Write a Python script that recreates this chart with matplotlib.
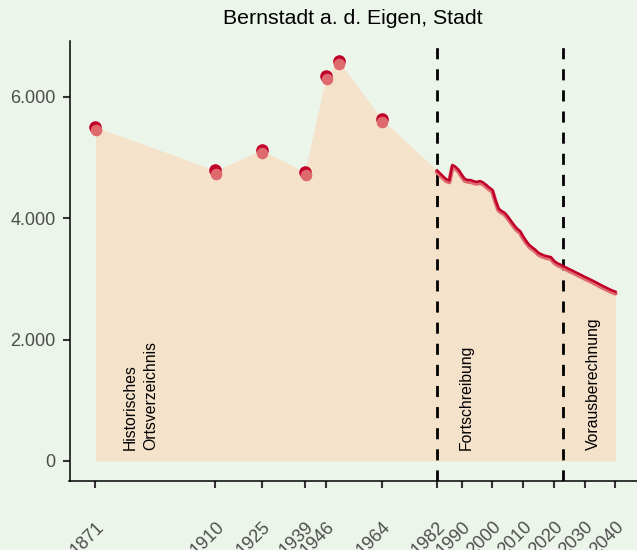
import matplotlib
matplotlib.use("Agg")
import matplotlib.pyplot as plt
import matplotlib.transforms as mtransforms
from matplotlib.ticker import FuncFormatter

plt.rcParams['font.family'] = ['Liberation Sans', 'DejaVu Sans']

title = "Bernstadt a. d. Eigen, Stadt"

hist_years = [1871, 1910, 1925, 1939, 1946, 1950, 1964]
hist_pop = [5505, 4790, 5126, 4765, 6346, 6593, 5637]

annual_years = list(range(1982, 2023))
annual_pop = [4790, 4740, 4690, 4645, 4625, 4880, 4850, 4800, 4720, 4650,
              4632, 4630, 4610, 4600, 4615, 4590, 4550, 4505, 4470, 4300,
              4160, 4120, 4090, 4030, 3960, 3890, 3830, 3790, 3700, 3625,
              3560, 3520, 3480, 3430, 3405, 3385, 3372, 3362, 3300, 3262,
              3240]

proj_years = list(range(2022, 2041))
proj_pop = [3240, 3212, 3188, 3162, 3138, 3112, 3088, 3062, 3036, 3012,
            2988, 2962, 2936, 2908, 2882, 2858, 2832, 2810, 2790]

xticks = [1871, 1910, 1925, 1939, 1946, 1964, 1982, 1990, 2000, 2010, 2020, 2030, 2040]
yticks = [0, 2000, 4000, 6000]
boundaries = [1982, 2023]
period_labels = ["Historisches\nOrtsverzeichnis", "Fortschreibung", "Vorausberechnung"]
label_x = [1885.5, 1991.5, 2033]

bg = "#ECF5EA"
fill_col = "#F5E2CB"
dark = "#C0002A"
light = "#DE6A6E"

fig = plt.figure(figsize=(6.37, 5.5), dpi=100, facecolor=bg)
ax = fig.add_axes([69.5/637, 69/550, (637-69.5)/637, 440/550])
ax.set_facecolor(bg)

area_x = hist_years + annual_years + proj_years[1:]
area_y = hist_pop + annual_pop + proj_pop[1:]
ax.fill_between(area_x, 0, area_y, color=fill_col, lw=0, zorder=1)

for b in boundaries:
    ax.axvline(b, color="black", lw=2, linestyle=(0, (4, 3.6)), zorder=2)

down = mtransforms.ScaledTranslation(0, -1.2/72, fig.dpi_scale_trans)
line_x = annual_years + proj_years[1:]
line_y = annual_pop + proj_pop[1:]
ax.plot(line_x, line_y, color=light, lw=3.2, transform=ax.transData + down,
        solid_capstyle='round', solid_joinstyle='round', zorder=3)
ax.plot(line_x, line_y, color=dark, lw=1.8, solid_joinstyle='round', zorder=4)

down2 = mtransforms.ScaledTranslation(0.6/72, -2.4/72, fig.dpi_scale_trans)
ax.scatter(hist_years, hist_pop, s=82, color=dark, lw=0, zorder=5)
ax.scatter(hist_years, hist_pop, s=70, color=light, lw=0, zorder=6,
           transform=ax.transData + down2)

for lx, txt in zip(label_x, period_labels):
    ax.text(lx, 180, txt, rotation=90, ha='center', va='bottom',
            multialignment='left', fontsize=11.3, color='black', zorder=7,
            linespacing=1.45)

ax.set_xlim(1862.55, 2047)
ax.set_ylim(-330, 6923)
ax.set_xticks(xticks)
ax.set_xticklabels([str(x) for x in xticks])
ax.set_yticks(yticks)
ax.yaxis.set_major_formatter(FuncFormatter(lambda v, p: f"{int(v):,}".replace(",", ".")))

for s in ['top', 'right']:
    ax.spines[s].set_visible(False)
for s in ['left', 'bottom']:
    ax.spines[s].set_color('black')
    ax.spines[s].set_linewidth(1.1)

ax.tick_params(axis='both', colors='#333333', length=5, width=1.5,
               labelsize=13, labelcolor='#4D4D4D')
ax.tick_params(axis='y', pad=5)
ax.tick_params(axis='x', pad=22)
for lab in ax.get_xticklabels():
    lab.set_rotation(45)
    lab.set_ha('right')
    lab.set_va('top')
    lab.set_rotation_mode('anchor')

fig.text((69.5 + 637) / 2 / 637, 1 - 18/550, title, ha='center', va='center',
         fontsize=15.3, color='black')

fig.savefig("out.png", dpi=100, facecolor=bg)
